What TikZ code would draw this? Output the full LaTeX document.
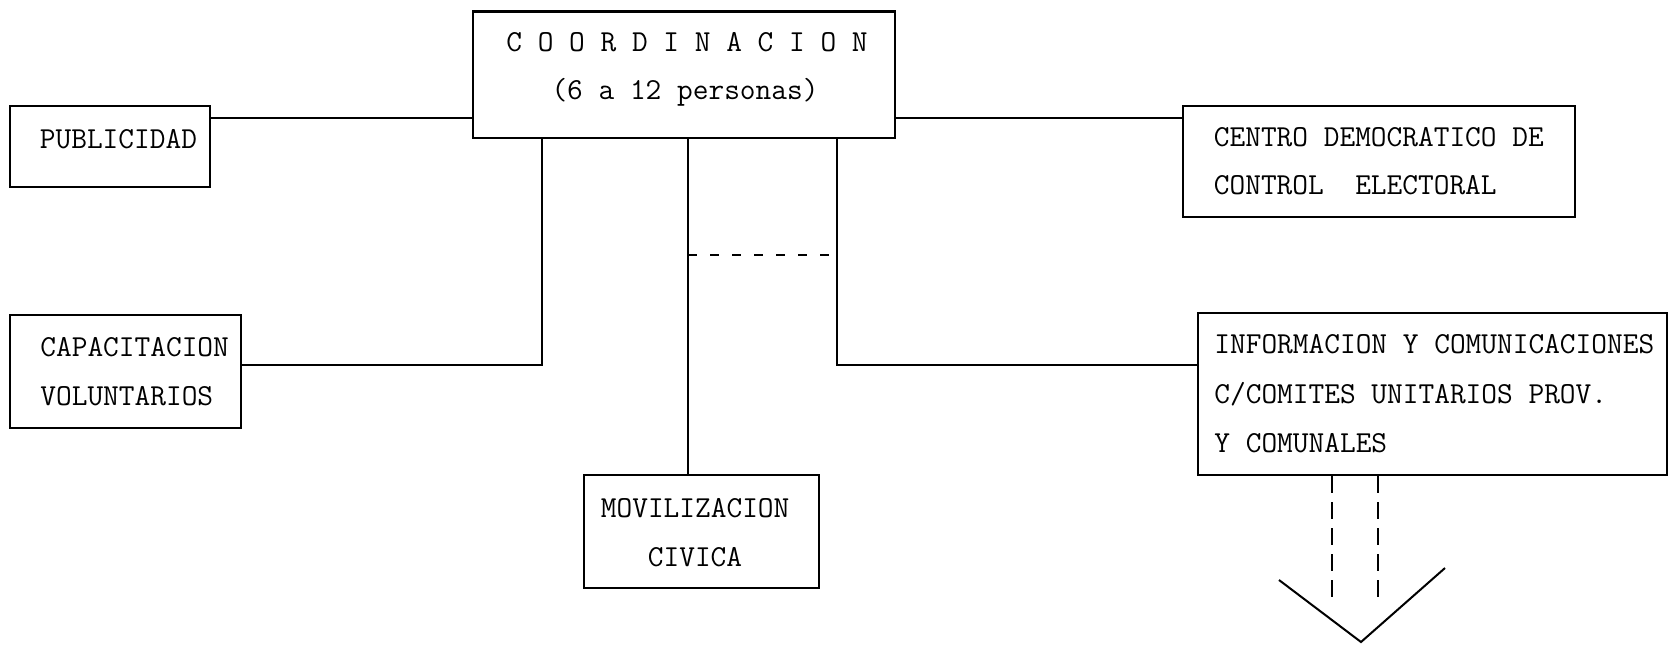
\documentclass[tikz,border=0pt]{standalone}
\begin{document}
\begin{tikzpicture}[x=0.5pt,y=-0.5pt,
  box/.style={draw, line width=1.3pt, inner sep=0pt},
  txt/.style={inner sep=0pt, font=\ttfamily\fontsize{15.25}{24}\selectfont},
  link/.style={line width=1pt},
  dashlink/.style={line width=0.9pt, dash pattern=on 4.5pt off 6.5pt},
  dashdown/.style={line width=0.9pt, dash pattern=on 8.5pt off 4.5pt}]
\useasboundingbox (0,0) rectangle (1670,645);

% boxes
\node[box, minimum width=211pt, minimum height=63.25pt] (coord) at (684,74.75) {};
\node[box, minimum width=100pt, minimum height=40.5pt] (pub) at (110,146.5) {};
\node[box, minimum width=115.5pt, minimum height=56.5pt] (cap) at (125.5,371.5) {};
\node[box, minimum width=117.5pt, minimum height=56.5pt] (mov) at (701.5,531.5) {};
\node[box, minimum width=196pt, minimum height=55.5pt] (centro) at (1379,161.5) {};
\node[box, minimum width=234.5pt, minimum height=81pt] (info) at (1432.5,394) {};

% texts
\node[txt, anchor=base] (coordA) at (687,51) {C O O R D I N A C I O N};
\node[txt, anchor=base] (coordB) at (685,99) {(6 a 12 personas)};
\node[txt, anchor=base west] (pubA) at (39.5,148) {PUBLICIDAD};
\node[txt, anchor=base west] (capA) at (40,356) {CAPACITACION};
\node[txt, anchor=base west] (capB) at (40,405) {VOLUNTARIOS};
\node[txt, anchor=base west] (movA) at (600.5,517) {MOVILIZACION};
\node[txt, anchor=base west] (movB) at (647.5,566) {CIVICA};
\node[txt, anchor=base west] (centroA) at (1213.5,146) {CENTRO DEMOCRATICO DE};
\node[txt, anchor=base west] (centroB) at (1213.5,194) {CONTROL\ \ ELECTORAL};
\node[txt, anchor=base west] (infoA) at (1214,353) {INFORMACION Y COMUNICACIONES};
\node[txt, anchor=base west] (infoB) at (1214,403) {C/COMITES UNITARIOS PROV.};
\node[txt, anchor=base west] (infoC) at (1214,452) {Y COMUNALES};

% connectors
\draw[link] ([yshift=-6.5pt]pub.north east) coordinate (p1) -- (p1 -| coord.west);
\draw[link] ([yshift=-6.5pt]centro.north west) coordinate (c1) -- (c1 -| coord.east);
\draw[link] ([yshift=3.25pt]cap.east) -| ([xshift=35pt]coord.south west);
\draw[link] ([xshift=2pt]coord.south) coordinate (m1) -- (m1 |- mov.north);
\draw[link] ([xshift=-29.5pt]coord.south east) coordinate (r1) |- ([yshift=14.5pt]info.west);
\coordinate (d1) at (m1 |- 0,255);
\coordinate (d2) at (r1 |- 0,255);
\draw[dashlink] (d1) -- (d2);

% downward dashed lines and open arrow
\draw[dashdown] ([xshift=67.5pt]info.south west) coordinate (v1) -- (v1 |- 0,602);
\draw[dashdown] ([xshift=90.5pt]info.south west) coordinate (v2) -- (v2 |- 0,602);
\draw[line width=1pt] (1279,580) -- (1361,642) -- (1445,568);
\end{tikzpicture}
\end{document}
